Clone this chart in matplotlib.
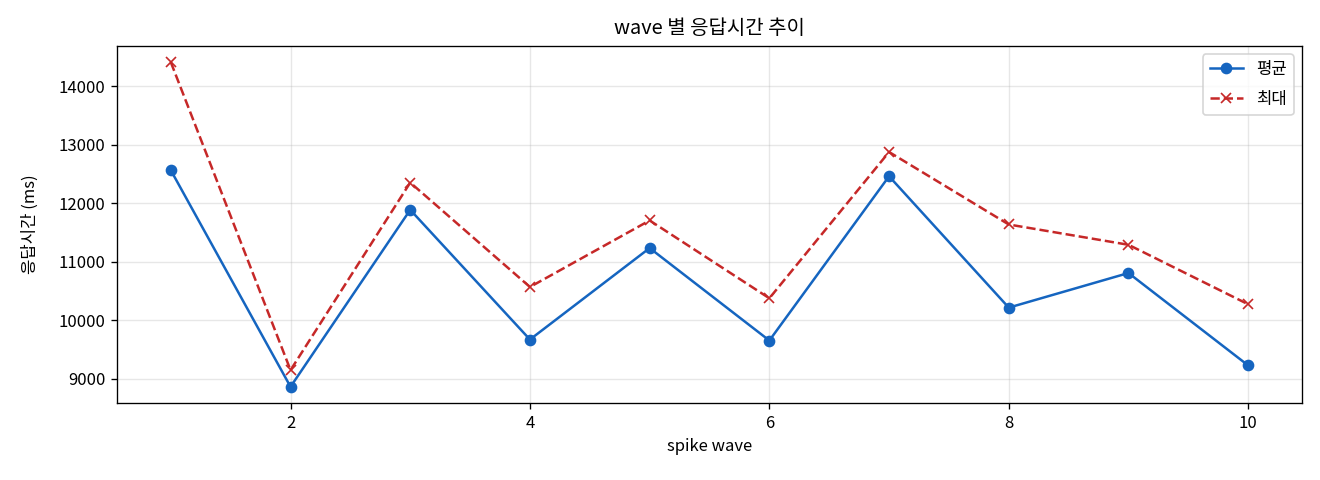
import matplotlib
matplotlib.use("Agg")
import matplotlib.pyplot as plt

plt.rcParams['font.family'] = ['Noto Sans CJK KR', 'DejaVu Sans']
plt.rcParams['axes.unicode_minus'] = False

waves = [1, 2, 3, 4, 5, 6, 7, 8, 9, 10]
avg_ms = [12567, 8863, 11890, 9671, 11236, 9654, 12464, 10217, 10809, 9228]
max_ms = [14415, 9148, 12356, 10570, 11708, 10377, 12879, 11639, 11292, 10274]

fig, ax = plt.subplots(figsize=(11, 4), dpi=120)
ax.plot(waves, avg_ms, marker='o', linestyle='-', color='#1565C0', label='평균')
ax.plot(waves, max_ms, marker='x', linestyle='--', color='#C62828', label='최대')
ax.set_title('wave 별 응답시간 추이', pad=7)
ax.set_xlabel('spike wave')
ax.set_ylabel('응답시간 (ms)', labelpad=12)
ax.grid(True, alpha=0.3)
ax.legend(loc='upper right', labelspacing=0.8)
fig.subplots_adjust(left=0.0886, right=0.9864, top=0.9042, bottom=0.1604)
fig.savefig('out.png', dpi=120)
